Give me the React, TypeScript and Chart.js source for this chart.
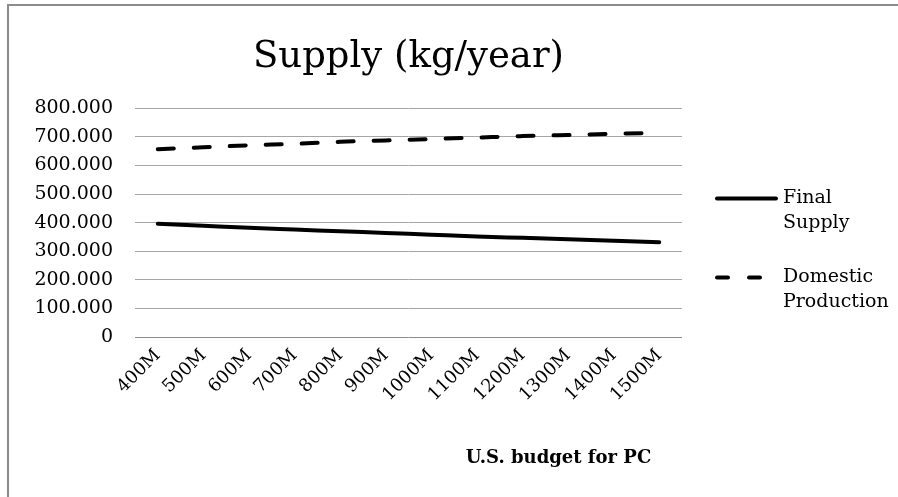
import React, { useEffect, useRef } from "react";
import { Chart, registerables } from "chart.js";

Chart.register(...registerables);

const categories = ["400M", "500M", "600M", "700M", "800M", "900M", "1000M", "1100M", "1200M", "1300M", "1400M", "1500M"];
const finalSupply = [396000, 389000, 382000, 376000, 370000, 364000, 358000, 352000, 347000, 342000, 337000, 332000];
const domesticProduction = [657000, 664000, 671000, 676000, 683000, 688000, 693000, 698000, 703000, 707000, 711000, 715000];
const seriesNames = ["Final Supply", "Domestic Production"];
const titleText = "Supply (kg/year)";
const xAxisTitle = "U.S. budget for PC";

const FONT = "'DejaVu Serif', serif";

function fmt(v: number): string {
  if (v === 0) return "0";
  return String(v).replace(/\B(?=(\d{3})+(?!\d))/g, ".");
}

const legendPlugin = {
  id: "customLegend",
  afterDraw(chart: any) {
    const ctx = chart.ctx;
    const area = chart.chartArea;
    const x0 = area.right + 33;
    const startY = chart.height / 2 - 50;
    ctx.save();
    chart.data.datasets.forEach((ds: any, i: number) => {
      const y = startY + i * 79;
      ctx.beginPath();
      ctx.strokeStyle = ds.borderColor;
      ctx.lineWidth = 4;
      ctx.lineCap = "round";
      if (ds.borderDash && ds.borderDash.length) {
        ctx.setLineDash([11, 21]);
        ctx.moveTo(x0 + 2, y);
        ctx.lineTo(x0 + 46, y);
      } else {
        ctx.setLineDash([]);
        ctx.moveTo(x0 + 2, y);
        ctx.lineTo(x0 + 61, y);
      }
      ctx.stroke();
      ctx.setLineDash([]);
      ctx.fillStyle = "#000";
      ctx.font = "19px " + FONT;
      ctx.textBaseline = "middle";
      ctx.textAlign = "left";
      const words = String(ds.label).split(" ");
      words.forEach((w: string, j: number) => {
        ctx.fillText(w, x0 + 68, y + j * 25);
      });
    });
    ctx.font = "bold 18px " + FONT;
    ctx.textAlign = "center";
    ctx.textBaseline = "middle";
    ctx.fillStyle = "#000";
    ctx.fillText(xAxisTitle, (area.left + area.right) / 2 + 150, 458);
    ctx.restore();
  },
};

export default function App() {
  const ref = useRef<HTMLCanvasElement | null>(null);
  useEffect(() => {
    if (!ref.current) return;
    const chart = new Chart(ref.current, {
      type: "line",
      data: {
        labels: categories,
        datasets: [
          {
            label: seriesNames[0],
            data: finalSupply,
            borderColor: "#000",
            borderWidth: 4,
            borderCapStyle: "round",
            pointRadius: 0,
            cubicInterpolationMode: "monotone",
            fill: false,
          },
          {
            label: seriesNames[1],
            data: domesticProduction,
            borderColor: "#000",
            borderWidth: 4,
            borderDash: [16, 20],
            borderCapStyle: "round",
            pointRadius: 0,
            cubicInterpolationMode: "monotone",
            fill: false,
          },
        ],
      },
      plugins: [legendPlugin],
      options: {
        animation: false,
        responsive: false,
        maintainAspectRatio: false,
        layout: { padding: { left: 0, right: 216, top: 0, bottom: 0 } },
        plugins: {
          legend: { display: false },
          tooltip: { enabled: false },
          title: {
            display: true,
            text: titleText,
            fullSize: false,
            color: "#000",
            font: { family: FONT, size: 37, weight: "normal" },
            padding: { top: 35, bottom: 29 },
          },
        },
        scales: {
          x: {
            offset: true,
            grid: { display: false, drawTicks: false },
            border: { display: false },
            ticks: {
              color: "#000",
              font: { family: FONT, size: 18 },
              maxRotation: 45,
              minRotation: 45,
              autoSkip: false,
              padding: 8,
            },
            afterFit(scale: any) {
              scale.height = 160;
            },
          },
          y: {
            min: 0,
            max: 800000,
            grid: {
              color: (c: any) => (c.tick && c.tick.value === 0 ? "#8c8c8c" : "#a6a6a6"),
              lineWidth: 1,
              drawTicks: false,
            },
            border: { display: false },
            ticks: {
              stepSize: 100000,
              color: "#000",
              font: { family: FONT, size: 19 },
              padding: 22,
              callback: (v: any) => fmt(Number(v)),
            },
            afterFit(scale: any) {
              scale.width = 135;
            },
          },
        },
      },
    });
    return () => chart.destroy();
  }, []);
  return (
    <div style={{ position: "fixed", left: 0, top: 0, width: 898, height: 497, overflow: "hidden", background: "#fff" }}>
      <canvas ref={ref} width={898} height={497} style={{ display: "block", width: 898, height: 497 }} />
      <div
        style={{
          position: "absolute",
          left: 7,
          top: 4,
          width: 1000,
          height: 1000,
          border: "2px solid #8c8c8c",
          pointerEvents: "none",
        }}
      />
    </div>
  );
}
